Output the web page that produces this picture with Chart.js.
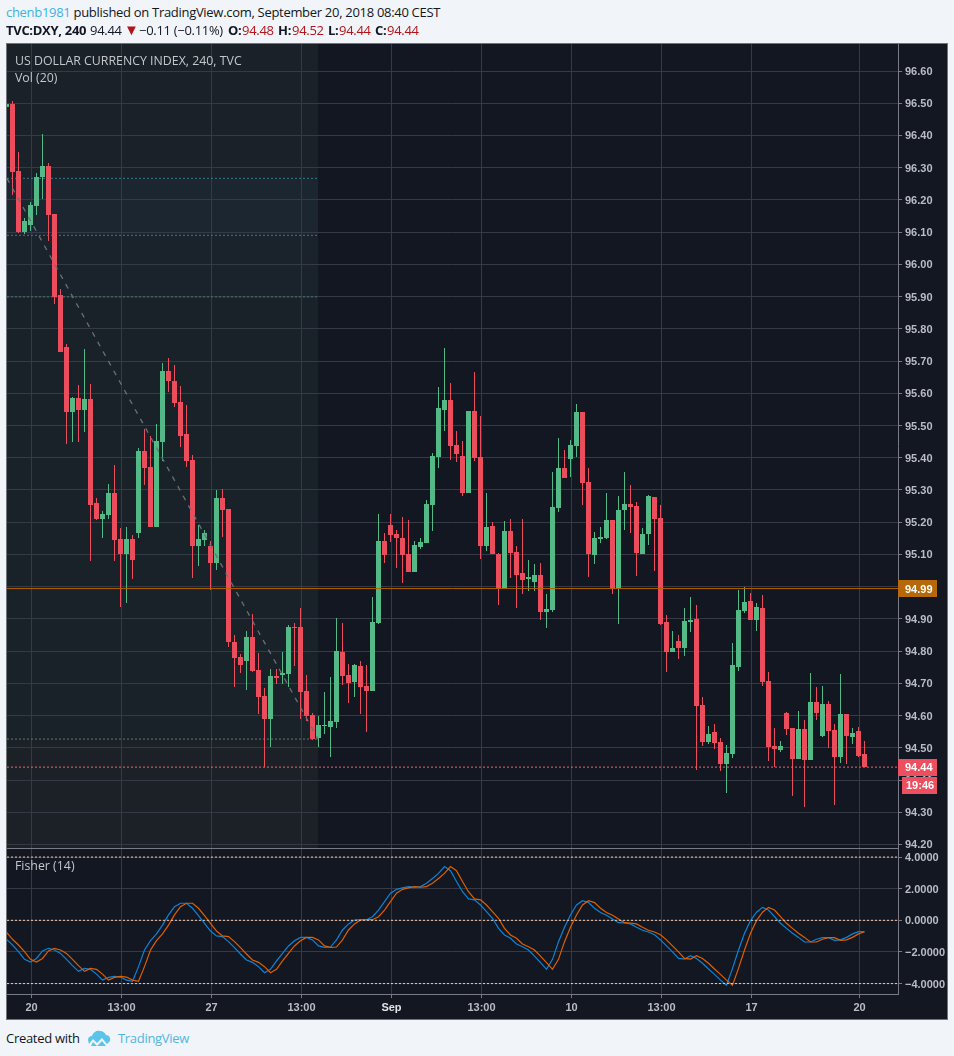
<!DOCTYPE html>
<html><head><meta charset="utf-8">
<script src="https://cdn.jsdelivr.net/npm/chart.js@4/dist/chart.umd.min.js"></script>
<style>
html,body{margin:0;padding:0;background:#f1f4f8;width:954px;height:1056px;overflow:hidden}
.t{position:absolute;white-space:nowrap;font-family:"Open Sans",sans-serif}
.h{font-size:13px;letter-spacing:-0.3px;color:#131722;top:21px}
#panel{position:absolute;left:6px;top:43px;width:940px;height:975px;border:1px solid #6f747b;background:#131722}
canvas{position:absolute;display:block}
#wrapMain{position:absolute;left:7px;top:44px;width:940px;height:805px}
#wrapFisher{position:absolute;left:7px;top:849px;width:940px;height:170px}
.b{font-weight:700}.r{color:#b2141a}
</style></head><body>
<div id="panel"></div>
<div id="wrapMain"><canvas id="main"></canvas></div>
<div id="wrapFisher"><canvas id="fisher"></canvas></div>
<div class="t h" style="left:6px;top:3px"><span style="color:#3bb3e4">chenb1981</span> published on TradingView.com, September 20, 2018 08:40 CEST</div>
<div class="t h b" style="left:6px">TVC:DXY, 240</div>
<div class="t h" style="left:90px">94.44</div>
<div class="t h r" style="left:124px;font-size:15px;top:19px">▼</div>
<div class="t h" style="left:139px">−0.11 (−0.11%)</div>
<div class="t h b" style="left:228px">O:</div><div class="t h r" style="left:242px">94.48</div>
<div class="t h b" style="left:278px">H:</div><div class="t h r" style="left:292px">94.52</div>
<div class="t h b" style="left:328px">L:</div><div class="t h r" style="left:339px">94.44</div>
<div class="t h b" style="left:375px">C:</div><div class="t h r" style="left:387px">94.44</div>
<div class="t" style="left:15px;top:52px;font-size:12.35px;color:#c4c7cc">US DOLLAR CURRENCY INDEX, 240, TVC</div>
<div class="t" style="left:15px;top:69px;font-size:12.35px;color:#c4c7cc">Vol (20)</div>
<div class="t" style="left:15px;top:857px;font-size:12.35px;color:#c4c7cc">Fisher (14)</div>
<div class="t h" style="left:6px;top:1029px">Created with</div>
<svg style="position:absolute;left:87px;top:1029px" width="25" height="17" viewBox="0 0 25 17"><path d="M1 11 C1 8 3 7 5 7 C6 3 10 1 13 2 C16 2 18 4 19 6 C22 6 24 9 23 12 L20 15 L15 9 L10 14 L6 10 L2 15 Z" fill="#5cc3ea"/><path d="M6 13 L10 17 L15 12 L19 17 L4 17 Z" fill="#5cc3ea"/></svg>
<div class="t h" style="left:118px;top:1029px;color:#4fb7e6">TradingView</div>
<script>
const opens=[96.488,96.498,96.290,96.101,96.122,96.181,96.271,96.305,96.156,95.905,95.743,
95.542,95.585,95.548,95.582,95.260,95.210,95.222,95.290,95.148,95.102,
95.148,95.167,95.421,95.371,95.185,95.449,95.669,95.638,95.573,95.474,
95.393,95.126,95.145,95.126,95.074,95.275,95.241,94.828,94.781,94.769,
94.843,94.741,94.660,94.589,94.722,94.725,94.729,94.874,94.874,94.676,
94.601,94.530,94.567,94.564,94.580,94.797,94.725,94.704,94.753,94.691,
94.676,94.887,95.142,95.191,95.164,95.151,95.102,95.046,95.123,95.136,
95.253,95.402,95.548,95.579,95.440,95.405,95.290,95.545,95.402,95.126,
95.188,95.102,94.996,95.173,95.108,95.043,95.024,95.015,95.036,94.921,
94.927,95.244,95.368,95.396,95.436,95.542,95.325,95.098,95.148,95.151,
95.207,94.996,95.238,95.257,95.250,95.102,95.164,95.278,95.213,94.890,
94.797,94.831,94.809,94.890,94.899,94.632,94.518,94.549,94.518,94.449,
94.481,94.750,94.924,94.955,94.896,94.933,94.707,94.505,94.493,94.608,
94.561,94.465,94.558,94.462,94.642,94.536,94.636,94.555,94.471,94.605,
94.533,94.552,94.48];
const highs=[96.498,96.507,96.349,96.144,96.194,96.284,96.405,96.314,96.156,95.924,95.752,
95.588,95.625,95.737,95.628,95.275,95.235,95.318,95.377,95.182,95.185,
95.160,95.430,95.489,95.467,95.505,95.694,95.709,95.688,95.622,95.564,
95.408,95.191,95.176,95.142,95.300,95.303,95.241,94.850,94.790,94.862,
94.915,94.794,94.685,94.744,94.744,94.797,94.881,94.887,94.933,94.725,
94.608,94.598,94.673,94.719,94.902,94.887,94.759,94.759,94.769,94.756,
94.968,95.226,95.167,95.226,95.176,95.216,95.207,95.142,95.151,95.269,
95.414,95.619,95.740,95.632,95.483,95.452,95.545,95.666,95.529,95.290,
95.201,95.105,95.204,95.210,95.126,95.210,95.083,95.071,95.074,94.977,
95.356,95.461,95.424,95.455,95.567,95.542,95.368,95.170,95.185,95.290,
95.207,95.281,95.356,95.315,95.263,95.182,95.284,95.278,95.253,94.911,
94.862,94.850,94.933,94.968,94.942,94.657,94.567,94.574,94.530,94.509,
94.825,94.990,94.999,94.980,94.949,94.974,94.735,94.561,94.521,94.611,
94.561,94.614,94.586,94.732,94.688,94.691,94.645,94.574,94.729,94.605,
94.561,94.564,94.52];
const lows=[96.488,96.215,96.098,96.095,96.104,96.153,96.203,96.073,95.877,95.728,95.443,
95.449,95.449,95.480,95.080,95.207,95.151,95.210,95.080,94.936,94.949,
95.024,95.151,95.315,95.185,95.185,95.390,95.604,95.557,95.433,95.371,
95.027,95.064,95.126,94.990,95.052,95.154,94.813,94.688,94.732,94.679,
94.735,94.605,94.440,94.502,94.697,94.697,94.688,94.753,94.589,94.583,
94.524,94.502,94.542,94.471,94.561,94.694,94.639,94.657,94.605,94.549,
94.676,94.884,95.074,95.139,95.058,95.011,95.046,95.046,95.117,95.136,
95.173,95.368,95.483,95.393,95.387,95.281,95.290,95.390,95.086,95.111,
95.102,94.942,94.996,95.027,94.933,94.977,94.987,94.987,94.896,94.871,
94.921,95.232,95.337,95.340,95.402,95.253,95.030,95.071,95.136,95.148,
94.977,94.884,95.176,95.167,95.033,95.102,95.129,95.049,94.881,94.735,
94.797,94.775,94.784,94.859,94.431,94.505,94.512,94.496,94.428,94.360,
94.468,94.738,94.918,94.896,94.862,94.691,94.459,94.440,94.487,94.539,
94.350,94.465,94.316,94.462,94.586,94.533,94.499,94.322,94.453,94.450,
94.512,94.471,94.44];
const closes=[96.498,96.286,96.101,96.135,96.184,96.271,96.305,96.153,95.899,95.728,95.542,
95.585,95.548,95.582,95.253,95.210,95.226,95.290,95.145,95.102,95.148,
95.083,95.421,95.368,95.185,95.452,95.669,95.638,95.570,95.467,95.390,
95.126,95.148,95.167,95.074,95.275,95.238,94.828,94.778,94.756,94.843,
94.738,94.657,94.589,94.722,94.716,94.732,94.874,94.871,94.673,94.598,
94.527,94.570,94.570,94.583,94.800,94.722,94.701,94.756,94.688,94.676,
94.890,95.142,95.098,95.160,95.151,95.098,95.046,95.129,95.139,95.257,
95.405,95.554,95.579,95.436,95.411,95.290,95.545,95.399,95.126,95.185,
95.102,94.996,95.173,95.105,95.036,95.021,95.030,95.036,94.921,94.930,
95.247,95.368,95.337,95.440,95.542,95.321,95.102,95.151,95.154,95.207,
94.993,95.238,95.257,95.247,95.105,95.164,95.281,95.210,94.884,94.797,
94.809,94.809,94.893,94.896,94.629,94.518,94.542,94.515,94.449,94.484,
94.756,94.927,94.952,94.896,94.936,94.704,94.502,94.496,94.505,94.558,
94.465,94.558,94.462,94.642,94.608,94.636,94.552,94.471,94.605,94.536,
94.546,94.474,94.44];
const fisherBlue=[-1.20,-1.56,-1.98,-2.47,-2.64,-2.41,-1.94,-1.77,-1.88,-2.09,-2.47,
-2.87,-3.23,-3.04,-3.10,-3.40,-3.78,-3.61,-3.54,-3.59,-3.78,
-3.86,-2.93,-1.88,-1.29,-0.86,-0.30,0.34,0.86,1.08,1.08,
0.76,0.30,-0.19,-0.68,-0.99,-1.03,-1.35,-1.73,-2.13,-2.51,
-2.66,-2.93,-3.31,-3.10,-2.57,-2.09,-1.62,-1.29,-1.08,-1.08,
-1.24,-1.62,-1.71,-1.69,-1.24,-0.61,-0.23,0.02,0.04,0.04,
0.23,0.65,1.18,1.71,1.96,2.05,2.13,2.09,2.13,2.34,
2.64,2.97,3.40,3.14,2.45,1.81,1.35,1.29,0.97,0.55,
0.13,-0.51,-0.93,-1.14,-1.50,-1.67,-1.88,-2.26,-2.68,-3.10,
-2.47,-1.35,-0.44,0.34,0.97,1.24,1.12,0.76,0.49,0.32,
0.08,-0.15,-0.17,-0.23,-0.44,-0.63,-0.74,-0.91,-1.24,-1.62,
-2.00,-2.41,-2.45,-2.24,-2.41,-2.72,-3.08,-3.42,-3.78,-4.11,
-3.04,-1.88,-0.82,-0.02,0.51,0.82,0.65,0.23,-0.19,-0.51,
-0.82,-1.08,-1.37,-1.37,-1.20,-1.10,-1.10,-1.27,-1.24,-1.08,
-0.86,-0.72,-0.72];
const fisherOrange=[-0.76,-1.20,-1.56,-1.98,-2.47,-2.64,-2.41,-1.94,-1.77,-1.88,-2.09,
-2.47,-2.87,-3.23,-3.04,-3.10,-3.40,-3.78,-3.61,-3.54,-3.59,
-3.78,-3.86,-2.93,-1.88,-1.29,-0.86,-0.30,0.34,0.86,1.08,
1.08,0.76,0.30,-0.19,-0.68,-0.99,-1.03,-1.35,-1.73,-2.13,
-2.51,-2.66,-2.93,-3.31,-3.10,-2.57,-2.09,-1.62,-1.29,-1.08,
-1.08,-1.24,-1.62,-1.71,-1.69,-1.24,-0.61,-0.23,0.02,0.04,
0.04,0.23,0.65,1.18,1.71,1.96,2.05,2.13,2.09,2.13,
2.34,2.64,2.97,3.40,3.14,2.45,1.81,1.35,1.29,0.97,
0.55,0.13,-0.51,-0.93,-1.14,-1.50,-1.67,-1.88,-2.26,-2.68,
-3.10,-2.47,-1.35,-0.44,0.34,0.97,1.24,1.12,0.76,0.49,
0.32,0.08,-0.15,-0.17,-0.23,-0.44,-0.63,-0.74,-0.91,-1.24,
-1.62,-2.00,-2.41,-2.45,-2.24,-2.41,-2.72,-3.08,-3.42,-3.78,
-4.11,-3.04,-1.88,-0.82,-0.02,0.51,0.82,0.65,0.23,-0.19,
-0.51,-0.82,-1.08,-1.37,-1.37,-1.20,-1.10,-1.10,-1.27,-1.24,
-1.08,-0.86,-0.72];
const priceTicks=[94.2,94.3,94.4,94.5,94.6,94.7,94.8,94.9,95.0,95.1,95.2,95.3,95.4,95.5,95.6,95.7,95.8,95.9,96.0,96.1,96.2,96.3,96.4,96.5,96.6];
const fisherTicks=[-4,-2,0,2,4];
const fisherLevels=[4,0,-4];
const timeTickPos=[3.1667,18.1667,33.1667,48.1667,63.1667,78.1667,93.1667,108.1667,123.1667,141.1667];
const timeTickLabels=["20","13:00","27","13:00","Sep","13:00","10","13:00","17","20"];
const fibStart=-0.9167, fibEnd=50.9167;
const fibLevels=[96.267,96.090,95.899,94.527];
const fibLevelColors=["#2f7f95","#4a6d9c","#3a7d72","#6f7278"];
const fibBands=[[96.75,96.267,"#1a2128"],[96.267,96.090,"#1b2631"],[96.090,95.899,"#1a232b"],[95.899,94.527,"#1a2229"],[94.527,94.0,"#1c2128"]];
const lastPrice=94.44, highlightPrice=94.994, countdown="19:46";
const xMin=-0.9167,xMax=147.5833;
const up="#53b987",down="#eb4d5c",grid="#363a47",axisC="#787b86",txt="#b9bcc3";
const idx=opens.map((_,i)=>i-1);
const colors=opens.map((o,i)=>closes[i]>=o?up:down);
const font={family:"'Liberation Sans',Arial,sans-serif",size:11,weight:"bold"};
Chart.defaults.animation=false;
function xScale(showLabels){return{type:"linear",min:xMin,max:xMax,offset:false,
  afterBuildTicks:s=>{s.ticks=timeTickPos.map(v=>({value:v}))},
  grid:{color:grid,lineWidth:1,offset:false,drawTicks:showLabels,tickLength:4,tickColor:axisC},
  border:{color:axisC,width:1},
  afterFit:s=>{s.height=showLabels?25:1;s.paddingLeft=0;s.paddingRight=0},
  ticks:{display:showLabels,autoSkip:false,maxRotation:0,padding:3,font,
    color:c=>c.tick&&timeTickLabels[timeTickPos.indexOf(c.tick.value)]==="Sep"?"#e0e2e6":txt,
    callback:v=>timeTickLabels[timeTickPos.indexOf(v)]}}}
function yScale(min,max,ticks,fmt){return{position:"right",min,max,
  afterBuildTicks:s=>{s.ticks=ticks.map(v=>({value:v}))},
  afterFit:s=>{s.width=49;s.paddingTop=0;s.paddingBottom=0},
  grid:{color:grid,lineWidth:1,tickLength:4,tickColor:axisC},
  border:{color:axisC,width:1},
  ticks:{crossAlign:"near",padding:3,font,color:txt,autoSkip:false,labelOffset:1,callback:fmt}}}
const snap={id:"snap",beforeDatasetsDraw(c){c.data.datasets.forEach((d,i)=>{if(d.type!=="bar")return;
  c.getDatasetMeta(i).data.forEach(e=>{let a=Math.round(e.y),b=Math.round(e.base);if(a===b)b=a+1;e.y=a;e.base=b})})}};
const bands={id:"bands",beforeDraw(c){const x=c.scales.x,y=c.scales.y,g=c.ctx,a=c.chartArea;g.save();
  g.beginPath();g.rect(a.left,a.top,a.width,a.height);g.clip();
  const l=x.getPixelForValue(fibStart),r=x.getPixelForValue(fibEnd);
  fibBands.forEach(b=>{g.fillStyle=b[2];const t=y.getPixelForValue(b[0]),m=y.getPixelForValue(b[1]);g.fillRect(l,t,r-l,m-t)});
  g.restore()}};
function tag(g,l,r,yc,h,col,text,off){g.fillStyle=col;g.fillRect(l,Math.round(yc-h/2),r-l,h);g.fillStyle="#fff";g.font="bold 11px 'Liberation Sans',Arial,sans-serif";g.textBaseline="middle";g.textAlign="left";g.fillText(text,l+off,Math.round(yc)+0.5)}
const tags={id:"tags",afterDraw(c){const g=c.ctx,a=c.chartArea,y=c.scales.y;g.save();
  const h=y.getPixelForValue(highlightPrice),p=y.getPixelForValue(lastPrice);
  tag(g,a.right,a.right+39,h,17,"#b5690b",highlightPrice.toFixed(2),7);
  tag(g,a.right,a.right+39,p,17,"#ee4f60",lastPrice.toFixed(2),7);
  tag(g,a.right+4,a.right+39,p+18,17,"#ee4f60",countdown,4);
  g.restore()}};
const hLine=(v,col,dash,w)=>({type:"line",data:[{x:xMin,y:v},{x:xMax,y:v}],borderColor:col,borderWidth:w||1,borderDash:dash||[],pointRadius:0,order:0});
const fibDatasets=fibLevels.map((v,i)=>({type:"line",data:[{x:fibStart,y:v},{x:fibEnd,y:v}],borderColor:fibLevelColors[i],borderWidth:1,borderDash:[2,2],pointRadius:0,order:3}));
new Chart(document.getElementById("main"),{type:"bar",
 data:{datasets:[
  ...fibDatasets,
  {type:"line",data:[{x:fibStart,y:fibLevels[0]},{x:fibEnd,y:fibLevels[3]}],borderColor:"#6c6f76",borderWidth:1.3,borderDash:[5,6],pointRadius:0,order:0},
  hLine(highlightPrice,"#b26000"),
  hLine(lastPrice,"#f0636f",[2,2]),
  {type:"bar",data:idx.map((x,i)=>({x,y:[lows[i],highs[i]]})),backgroundColor:colors,barThickness:1,grouped:false,inflateAmount:0,order:2},
  {type:"bar",data:idx.map((x,i)=>({x,y:[Math.min(opens[i],closes[i]),Math.max(opens[i],closes[i])]})),backgroundColor:colors,barThickness:5,grouped:false,inflateAmount:0,order:1}
 ]},
 options:{responsive:true,maintainAspectRatio:false,layout:{padding:0},
  plugins:{legend:{display:false},tooltip:{enabled:false}},
  scales:{x:xScale(false),y:yScale(94.189,96.6838,priceTicks,v=>v.toFixed(2))}},
 plugins:[bands,snap,tags]});
new Chart(document.getElementById("fisher"),{type:"line",
 data:{datasets:[
  ...fisherLevels.map(v=>hLine(v,"#f7c9a8",[2,2])),
  {data:idx.map((x,i)=>({x,y:fisherBlue[i]})),borderColor:"#0b84d8",borderWidth:1.2,pointRadius:0,tension:0,order:2},
  {data:idx.map((x,i)=>({x,y:fisherOrange[i]})),borderColor:"#e05f00",borderWidth:1.2,pointRadius:0,tension:0,order:1}
 ]},
 options:{responsive:true,maintainAspectRatio:false,layout:{padding:0},
  plugins:{legend:{display:false},tooltip:{enabled:false}},
  scales:{x:xScale(true),y:yScale(-4.66,4.51,fisherTicks,v=>v<0?"\u2212"+Math.abs(v).toFixed(4):v.toFixed(4))}}});
</script>
</body></html>
